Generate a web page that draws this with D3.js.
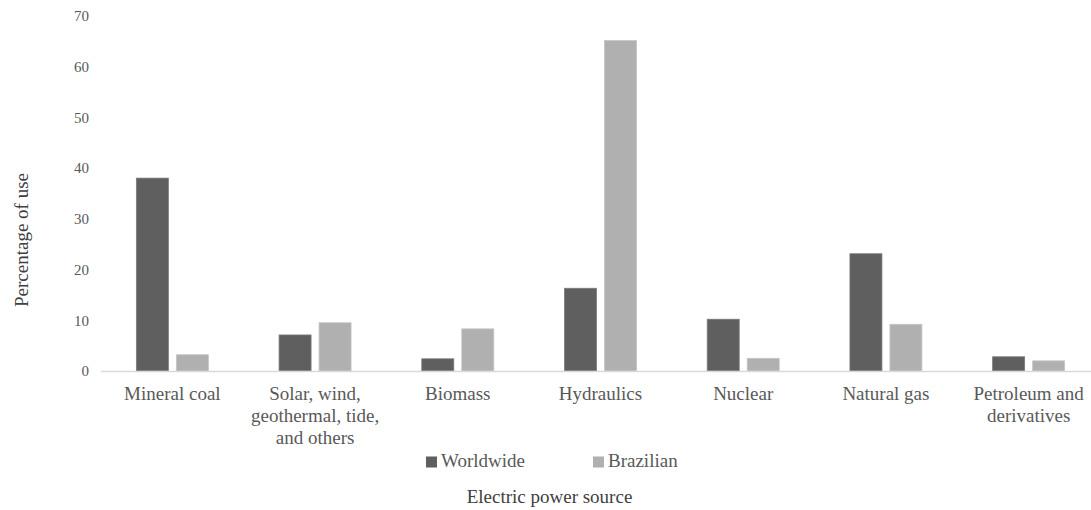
<!DOCTYPE html>
<html>
<head>
<meta charset="utf-8">
<script src="https://cdn.jsdelivr.net/npm/d3@7"></script>
<style>
  html, body { margin: 0; padding: 0; background: #ffffff; }
  svg { display: block; }
  text { font-family: "Liberation Serif", "Times New Roman", serif; }
</style>
</head>
<body>
<svg id="chart" width="1091" height="510"></svg>
<script>
const categories = [
  ["Mineral coal"],
  ["Solar, wind,", "geothermal, tide,", "and others"],
  ["Biomass"],
  ["Hydraulics"],
  ["Nuclear"],
  ["Natural gas"],
  ["Petroleum and", "derivatives"]
];
const seriesNames = ["Worldwide", "Brazilian"];
const worldwide = [38, 7.1, 2.4, 16.3, 10.2, 23.1, 2.8];
const brazilian = [3.2, 9.5, 8.3, 65.1, 2.5, 9.2, 2.0];
const yTicks = [0, 10, 20, 30, 40, 50, 60, 70];
const colors = ["#5f5f5f", "#b0b0b0"];

const svg = d3.select("#chart");
const catKeys = categories.map(c => c.join(" "));
const values = [worldwide, brazilian];

const x0 = d3.scaleBand().domain(catKeys).range([101, 1100]).paddingInner(0).paddingOuter(0);
const x1 = d3.scaleBand().domain(seriesNames).range([0, x0.bandwidth()]).paddingInner(0.2).paddingOuter(0.884);
const y = d3.scaleLinear().domain([0, 70]).range([371, 15.7]);

// y tick labels
const yAxis = d3.axisLeft(y).tickValues(yTicks).tickSize(0).tickPadding(0);
const gy = svg.append("g").attr("transform", "translate(89,0)").call(yAxis);
gy.select(".domain").remove();
gy.selectAll("text")
  .attr("fill", "#595959")
  .style("font-size", "15px")
  .style("font-family", "'Liberation Serif', serif");

// bars
seriesNames.forEach((s, si) => {
  svg.append("g").selectAll("rect")
    .data(values[si])
    .join("rect")
    .attr("x", (d, i) => x0(catKeys[i]) + x1(s))
    .attr("width", x1.bandwidth())
    .attr("y", d => y(d))
    .attr("height", d => y(0) - y(d))
    .attr("fill", colors[si])
    .attr("stroke", si === 0 ? "#7a7a7a" : "#c4c4c4")
    .attr("stroke-width", 0.8);
});

// baseline
svg.append("line")
  .attr("x1", 101).attr("x2", 1091)
  .attr("y1", y(0) + 0.5).attr("y2", y(0) + 0.5)
  .attr("stroke", "#d9d9d9").attr("stroke-width", 1.5);

// category labels
const gx = svg.append("g");
categories.forEach((lines, i) => {
  const cx = x0(catKeys[i]) + x0.bandwidth() / 2;
  const t = gx.append("text")
    .attr("x", cx).attr("y", 400)
    .attr("text-anchor", "middle")
    .attr("fill", "#595959")
    .style("font-size", "19px");
  lines.forEach((ln, j) => {
    t.append("tspan").attr("x", cx).attr("dy", j === 0 ? 0 : 22).text(ln);
  });
});

// legend
const legendX = [426, 593];
seriesNames.forEach((s, si) => {
  svg.append("rect")
    .attr("x", legendX[si]).attr("y", 456.5)
    .attr("width", 11).attr("height", 11)
    .attr("fill", colors[si]);
  svg.append("text")
    .attr("x", legendX[si] + 15).attr("y", 467)
    .attr("fill", "#595959")
    .style("font-size", "19px")
    .text(s);
});

// axis titles
svg.append("text")
  .attr("x", 549.5).attr("y", 503)
  .attr("text-anchor", "middle")
  .attr("fill", "#404040")
  .style("font-size", "19px")
  .text("Electric power source");

svg.append("text")
  .attr("transform", "translate(28,240) rotate(-90)")
  .attr("text-anchor", "middle")
  .attr("fill", "#404040")
  .style("font-size", "19px")
  .text("Percentage of use");
</script>
</body>
</html>
